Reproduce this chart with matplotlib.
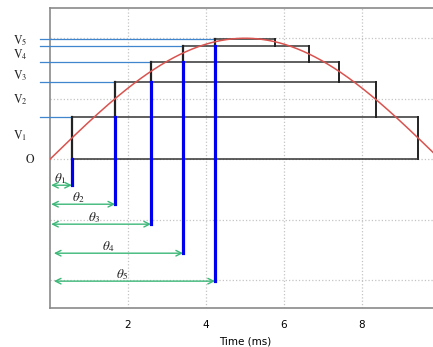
import numpy as np
import matplotlib
matplotlib.use("Agg")
import matplotlib.pyplot as plt

plt.rcParams['mathtext.fontset'] = 'stix'

# staircase approximation of a half sine wave
level_names = ['V1', 'V2', 'V3', 'V4', 'V5']
levels = [0.347, 0.636, 0.80, 0.934, 0.99]
rise_t = [0.56, 1.67, 2.59, 3.41, 4.23]
fall_t = [9.44, 8.35, 7.41, 6.65, 5.78]
angle_y = [-0.215, -0.372, -0.537, -0.777, -1.008]
angle_names = ['θ1', 'θ2', 'θ3', 'θ4', 'θ5']
level_label_y = [0.19, 0.49, 0.69, 0.865, 0.98]
x_ticks = [2, 4, 6, 8, 10]
period_ms = 20.0
amplitude = 1.0

fig = plt.figure(figsize=(4.33, 3.47), dpi=100)
ax = fig.add_axes([50 / 433, 39 / 347, 390 / 433, 300 / 347])
ax.set_xlim(0, 10)
ax.set_ylim(-1.23, 1.25)

# reference sine
t = np.linspace(0, 10, 400)
ax.plot(t, amplitude * np.sin(2 * np.pi * t / period_ms), color='#d9534f', lw=1.1, zorder=6)

prev = 0.0
for k in range(len(levels)):
    lv = levels[k]
    # black step outline
    ax.plot([rise_t[k], fall_t[k]], [lv, lv], color='#333333', lw=1.1, zorder=3)
    ax.plot([rise_t[k], rise_t[k]], [prev, lv], color='#222222', lw=1.6, zorder=4)
    ax.plot([fall_t[k], fall_t[k]], [prev, lv], color='#222222', lw=1.4, zorder=3)
    if k == 0:
        ax.plot([rise_t[0], fall_t[0]], [0, 0], color='#333333', lw=1.1, zorder=3)
    # thin blue level line from the axis
    ax.plot([-0.26, rise_t[k]], [lv, lv], color='#3f86cf', lw=0.9, zorder=3, clip_on=False)
    # thick blue switching line
    ax.plot([rise_t[k], rise_t[k]], [prev, angle_y[k]], color='#0000ee', lw=2.3, zorder=5)
    # angle arrows
    x0 = 0.03 if k < 3 else 0.1
    ax.annotate('', xy=(rise_t[k], angle_y[k]), xytext=(x0, angle_y[k]),
                arrowprops=dict(arrowstyle='<->', color='#3cb878', lw=1.0,
                                shrinkA=0, shrinkB=0), zorder=5)
    ax.annotate('$\\theta_%d$' % (k + 1), xy=(0.44 * rise_t[k], angle_y[k]),
                xytext=(0, 5), textcoords='offset points', ha='center', va='center',
                fontsize=9.5, color='#222222')
    ax.text(-0.95, level_label_y[k], '$\\mathrm{V}_%d$' % (k + 1), ha='left', va='center',
            fontsize=8.5, color='#222222', clip_on=False)
    prev = lv

ax.text(-0.5, 0.0, '$\\mathrm{O}$', ha='center', va='center', fontsize=8.5,
        color='#222222', clip_on=False)

ax.set_xticks(x_ticks)
ax.set_xticklabels([str(v) for v in x_ticks], fontsize=7.5, family=['Liberation Sans Narrow', 'DejaVu Sans'])
ax.set_yticks([-1, -0.5, 0, 0.5, 1])
ax.set_yticklabels([])
ax.tick_params(length=0, pad=9)
ax.grid(True, linestyle=':', color='#c4c4c4', lw=0.9)
ax.set_xlabel('Time (ms)', fontsize=7.5, family=['Liberation Sans Narrow', 'DejaVu Sans'], labelpad=4)
for s in ax.spines.values():
    s.set_color('#8a8a8a')
    s.set_linewidth(1.2)

fig.savefig('out.png', dpi=100)
